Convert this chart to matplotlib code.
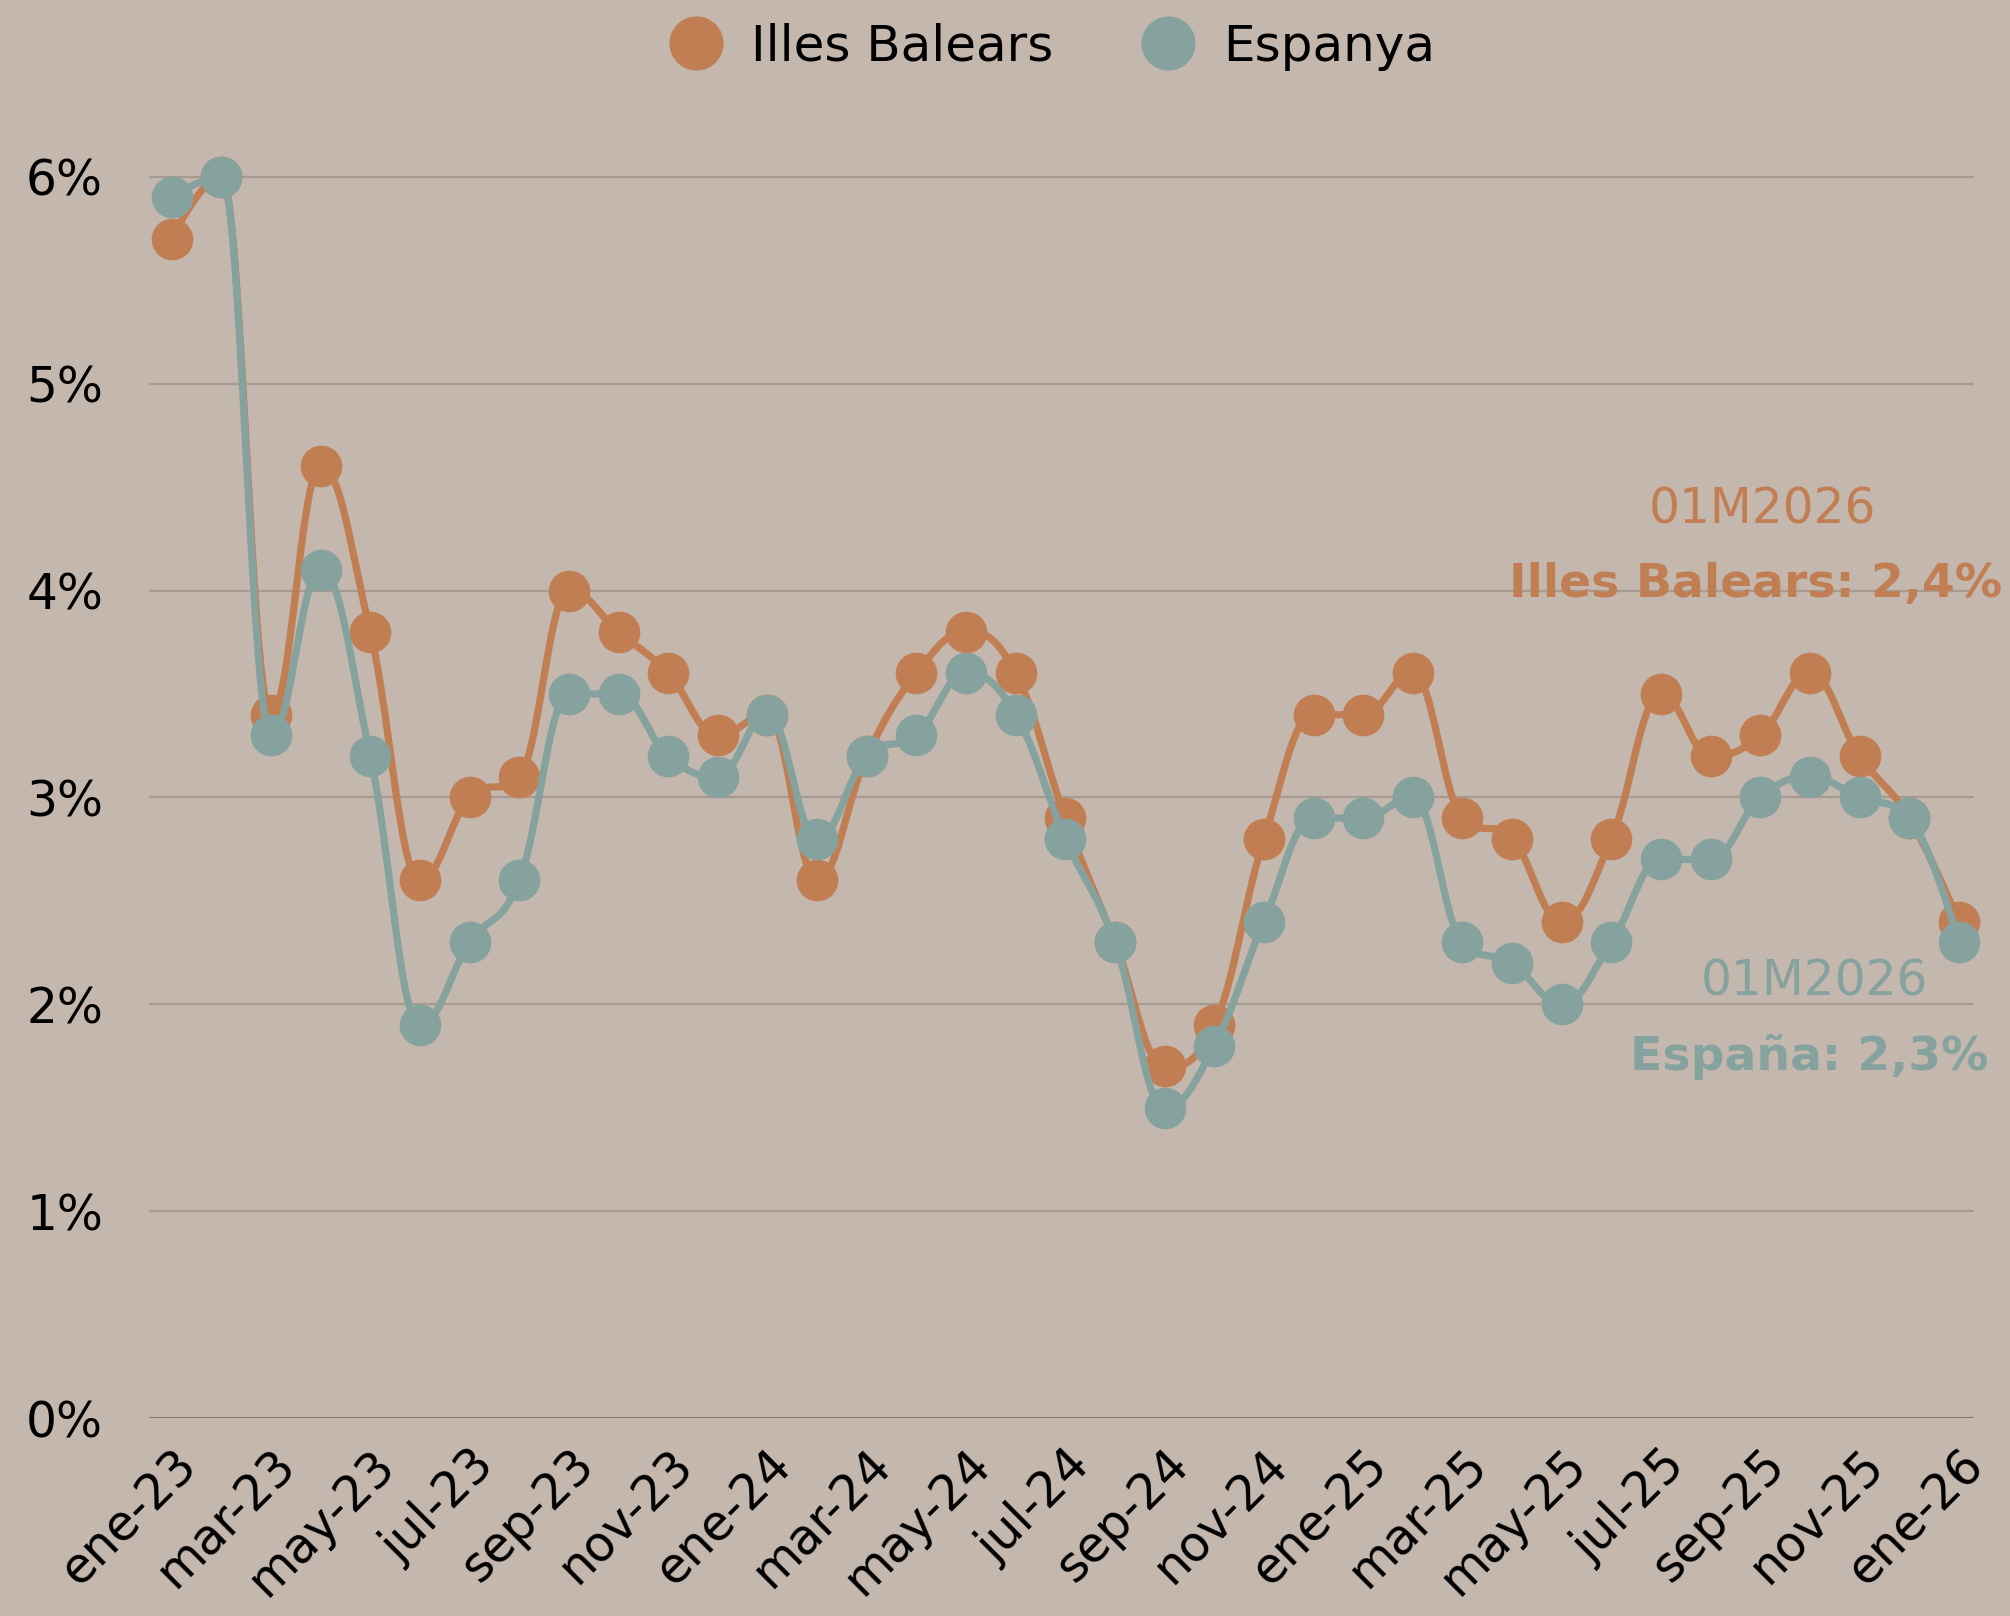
import numpy as np
import matplotlib
matplotlib.use("Agg")
import matplotlib.pyplot as plt
import matplotlib.transforms as mtransforms
from matplotlib.lines import Line2D

plt.rcParams['font.family'] = ['DejaVu Sans']

# --- data ---
months = ['ene', 'feb', 'mar', 'abr', 'may', 'jun', 'jul', 'ago', 'sep', 'oct', 'nov', 'dic']
labels = [f"{months[i % 12]}-{23 + i // 12}" for i in range(37)]

baleares = [5.7, 6.0, 3.4, 4.6, 3.8, 2.6, 3.0, 3.1, 4.0, 3.8, 3.6, 3.3,
            3.4, 2.6, 3.2, 3.6, 3.8, 3.6, 2.9, 2.3, 1.7, 1.9, 2.8, 3.4,
            3.4, 3.6, 2.9, 2.8, 2.4, 2.8, 3.5, 3.2, 3.3, 3.6, 3.2, 2.9,
            2.4]
espanya = [5.9, 6.0, 3.3, 4.1, 3.2, 1.9, 2.3, 2.6, 3.5, 3.5, 3.2, 3.1,
           3.4, 2.8, 3.2, 3.3, 3.6, 3.4, 2.8, 2.3, 1.5, 1.8, 2.4, 2.9,
           2.9, 3.0, 2.3, 2.2, 2.0, 2.3, 2.7, 2.7, 3.0, 3.1, 3.0, 2.9,
           2.3]

BG = '#C4B7AD'
ORANGE = '#C27E53'
TEAL = '#86A29E'


def spline_path(xs, ys, smoothing=1.5, n=30):
    # highcharts-style spline: cubic beziers with clamped control points
    xs = np.asarray(xs, float)
    ys = np.asarray(ys, float)
    k = len(xs)
    lc = [(x, y) for x, y in zip(xs, ys)]
    rc = [(x, y) for x, y in zip(xs, ys)]
    denom = smoothing + 1
    for i in range(1, k - 1):
        px, py = xs[i], ys[i]
        lx, ly = xs[i - 1], ys[i - 1]
        nx, ny = xs[i + 1], ys[i + 1]
        lcx = (smoothing * px + lx) / denom
        lcy = (smoothing * py + ly) / denom
        rcx = (smoothing * px + nx) / denom
        rcy = (smoothing * py + ny) / denom
        corr = (rcy - lcy) * (rcx - px) / (rcx - lcx) + py - rcy
        lcy += corr
        rcy += corr
        if lcy > ly and lcy > py:
            lcy = max(ly, py)
            rcy = 2 * py - lcy
        elif lcy < ly and lcy < py:
            lcy = min(ly, py)
            rcy = 2 * py - lcy
        if rcy > ny and rcy > py:
            rcy = max(ny, py)
            lcy = 2 * py - rcy
        elif rcy < ny and rcy < py:
            rcy = min(ny, py)
            lcy = 2 * py - rcy
        lc[i] = (lcx, lcy)
        rc[i] = (rcx, rcy)
    t = np.linspace(0, 1, n)[:, None]
    out = []
    for i in range(k - 1):
        p0 = np.array([xs[i], ys[i]])
        p1 = np.array(rc[i])
        p2 = np.array(lc[i + 1])
        p3 = np.array([xs[i + 1], ys[i + 1]])
        seg = ((1 - t) ** 3) * p0 + 3 * ((1 - t) ** 2) * t * p1 + 3 * (1 - t) * t ** 2 * p2 + t ** 3 * p3
        out.append(seg if i == 0 else seg[1:])
    pts = np.vstack(out)
    return pts[:, 0], pts[:, 1]


fig = plt.figure(figsize=(20.1, 16.16), dpi=100, facecolor=BG)
ax = fig.add_axes([0.0741, 0.1225, 0.9079, 0.8065], facecolor=BG)

x = np.arange(len(labels))
for vals, col in [(baleares, ORANGE), (espanya, TEAL)]:
    sx, sy = spline_path(x, vals)
    ax.plot(sx, sy, color=col, lw=5.2, solid_capstyle='round', clip_on=False, zorder=3)
    ax.plot(x, vals, 'o', color=col, ms=30, mew=0, clip_on=False, zorder=3)

ax.set_xlim(-0.46, 36.3)
ax.set_ylim(0, 6.3)
ax.set_yticks(range(0, 7))
ax.set_yticklabels([f"{v}%" for v in range(0, 7)])
ax.set_xticks(x[::2])
ax.set_xticklabels(labels[::2], rotation=45, ha='right', rotation_mode='anchor')
shift = mtransforms.ScaledTranslation(0.2, 0, fig.dpi_scale_trans)
for lab in ax.get_xticklabels():
    lab.set_transform(lab.get_transform() + shift)

ax.grid(axis='y', color='#A69A91', lw=1.6)
ax.set_axisbelow(True)
for s in ax.spines.values():
    s.set_visible(False)
ax.axhline(0, color='#77706B', lw=1.8, zorder=1)
ax.tick_params(axis='both', length=0, labelsize=35, colors='black')
ax.tick_params(axis='y', pad=33)
ax.tick_params(axis='x', pad=16)

# last value labels
ax.text(1762, 1616 - 509, '01M2026', transform=None, color=ORANGE, fontsize=35,
        ha='center', va='center')
ax.text(2002, 1616 - 585, 'Illes Balears: 2,4%', transform=None, color=ORANGE,
        fontsize=34, fontweight='bold', ha='right', va='center')
ax.text(1814, 1616 - 981, '01M2026', transform=None, color=TEAL, fontsize=35,
        ha='center', va='center')
ax.text(1988, 1616 - 1057, 'España: 2,3%', transform=None, color=TEAL,
        fontsize=34, fontweight='bold', ha='right', va='center')

handles = [Line2D([], [], marker='o', ls='', color=ORANGE, ms=39, mew=0),
           Line2D([], [], marker='o', ls='', color=TEAL, ms=39, mew=0)]
fig.legend(handles, ['Illes Balears', 'Espanya'], loc='center', bbox_to_anchor=(0.524, 0.971),
           ncol=2, frameon=False, fontsize=36, handletextpad=0.6, columnspacing=1.8,
           handlelength=1.0)

fig.savefig('out.png', dpi=100, facecolor=BG)
